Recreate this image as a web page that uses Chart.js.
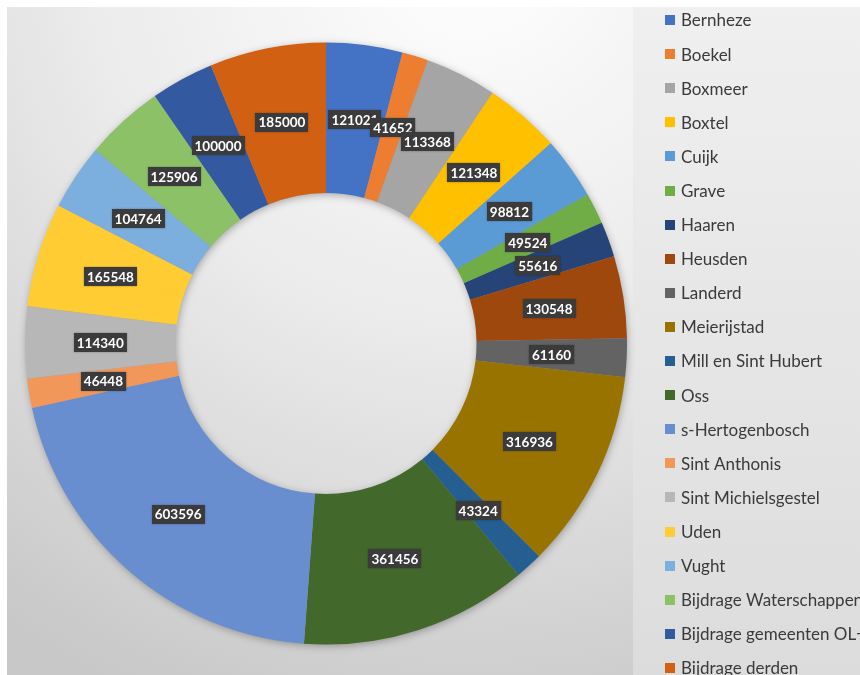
<!DOCTYPE html>
<html>
<head>
<meta charset="utf-8">
<script src="https://cdn.jsdelivr.net/npm/chart.js@4"></script>
<style>
  html, body { margin: 0; padding: 0; background: #fff; }
  #wrap { width: 860px; height: 675px; }
</style>
</head>
<body>
<div id="wrap"><canvas id="donut" width="860" height="675"></canvas></div>
<script>
const labels = [
  "Bernheze", "Boekel", "Boxmeer", "Boxtel", "Cuijk", "Grave", "Haaren",
  "Heusden", "Landerd", "Meierijstad", "Mill en Sint Hubert", "Oss",
  "s-Hertogenbosch", "Sint Anthonis", "Sint Michielsgestel", "Uden", "Vught",
  "Bijdrage Waterschappen", "Bijdrage gemeenten OL+", "Bijdrage derden"
];

const amounts = [
  121021, 41652, 113368, 121348, 98812, 49524, 55616,
  130548, 61160, 316936, 43324, 361456,
  603596, 46448, 114340, 165548, 104764,
  125906, 100000, 185000
];

const colors = [
  "#4472C4", "#ED7D31", "#A5A5A5", "#FFC000", "#5B9BD5", "#70AD47", "#264478",
  "#9E480E", "#636363", "#997300", "#255E91", "#43682B",
  "#698ED0", "#F1975A", "#B7B7B7", "#FFCD33", "#7CAFDD",
  "#8CC168", "#335AA1", "#D26012"
];

// background: grey gradient, lighter legend panel
const backdrop = {
  id: "backdrop",
  beforeDraw(chart) {
    const ctx = chart.ctx;
    const w = chart.width, h = chart.height;
    ctx.save();
    ctx.fillStyle = "#ffffff";
    ctx.fillRect(0, 0, w, h);
    const g = ctx.createRadialGradient(470, -60, 40, 470, -60, 820);
    g.addColorStop(0, "#fdfdfd");
    g.addColorStop(0.45, "#ebebeb");
    g.addColorStop(1, "#c8c8c8");
    ctx.fillStyle = g;
    ctx.fillRect(7, 7, w - 7, h - 7);
    const p = ctx.createLinearGradient(0, 0, 0, h);
    p.addColorStop(0, "#f0f0f0");
    p.addColorStop(1, "#dcdcdc");
    ctx.fillStyle = p;
    ctx.fillRect(633, 7, w - 633, h - 7);
    ctx.restore();
  }
};

// soft shadow under the ring
const ringShadow = {
  id: "ringShadow",
  beforeDatasetsDraw(chart) {
    const arc = chart.getDatasetMeta(0).data[0];
    if (!arc) return;
    const ctx = chart.ctx;
    const { x, y, outerRadius, innerRadius } = arc.getProps(["x", "y", "outerRadius", "innerRadius"], true);
    ctx.save();
    ctx.shadowColor = "rgba(0,0,0,0.35)";
    ctx.shadowBlur = 9;
    ctx.shadowOffsetX = 1;
    ctx.shadowOffsetY = 2;
    ctx.beginPath();
    ctx.arc(x, y, outerRadius - 1, 0, Math.PI * 2);
    ctx.arc(x, y, innerRadius + 1, 0, Math.PI * 2, true);
    ctx.fillStyle = "#999";
    ctx.fill();
    ctx.restore();
  }
};

// dark value boxes in the middle of each slice
const valueBoxes = {
  id: "valueBoxes",
  afterDatasetsDraw(chart) {
    const ctx = chart.ctx;
    const meta = chart.getDatasetMeta(0);
    ctx.save();
    ctx.font = "bold 13.5px Lato, 'Open Sans', sans-serif";
    ctx.textAlign = "center";
    ctx.textBaseline = "middle";
    meta.data.forEach((arc, i) => {
      const pos = arc.tooltipPosition();
      const txt = String(chart.data.datasets[0].data[i]);
      const tw = ctx.measureText(txt).width;
      const bw = tw + 6, bh = 19;
      ctx.shadowColor = "rgba(0,0,0,0.3)";
      ctx.shadowBlur = 2;
      ctx.fillStyle = "#3b3b3b";
      ctx.fillRect(Math.round(pos.x - bw / 2), Math.round(pos.y - bh / 2), bw, bh);
      ctx.shadowBlur = 0;
      ctx.shadowColor = "transparent";
      ctx.fillStyle = "#ffffff";
      ctx.fillText(txt, pos.x, pos.y + 1);
    });
    ctx.restore();
  }
};

// legend list on the right side
const sideLegend = {
  id: "sideLegend",
  afterDraw(chart) {
    const ctx = chart.ctx;
    const ds = chart.data.datasets[0];
    ctx.save();
    ctx.font = "17px Lato, 'Open Sans', sans-serif";
    ctx.textBaseline = "middle";
    chart.data.labels.forEach((lab, i) => {
      const y = 20 + i * 34.1;
      ctx.fillStyle = ds.backgroundColor[i];
      ctx.fillRect(665, Math.round(y - 5), 10, 10);
      ctx.fillStyle = "#3a3a3a";
      ctx.fillText(lab, 681, y + 1);
    });
    ctx.restore();
  }
};

new Chart(document.getElementById("donut"), {
  type: "doughnut",
  data: {
    labels: labels,
    datasets: [{
      data: amounts,
      backgroundColor: colors,
      borderWidth: 0
    }]
  },
  options: {
    responsive: false,
    animation: false,
    cutout: "50%",
    layout: {
      padding: { left: 25, top: 41, bottom: 29, right: 233 }
    },
    plugins: {
      legend: { display: false },
      tooltip: { enabled: false }
    }
  },
  plugins: [backdrop, ringShadow, valueBoxes, sideLegend]
});
</script>
</body>
</html>
